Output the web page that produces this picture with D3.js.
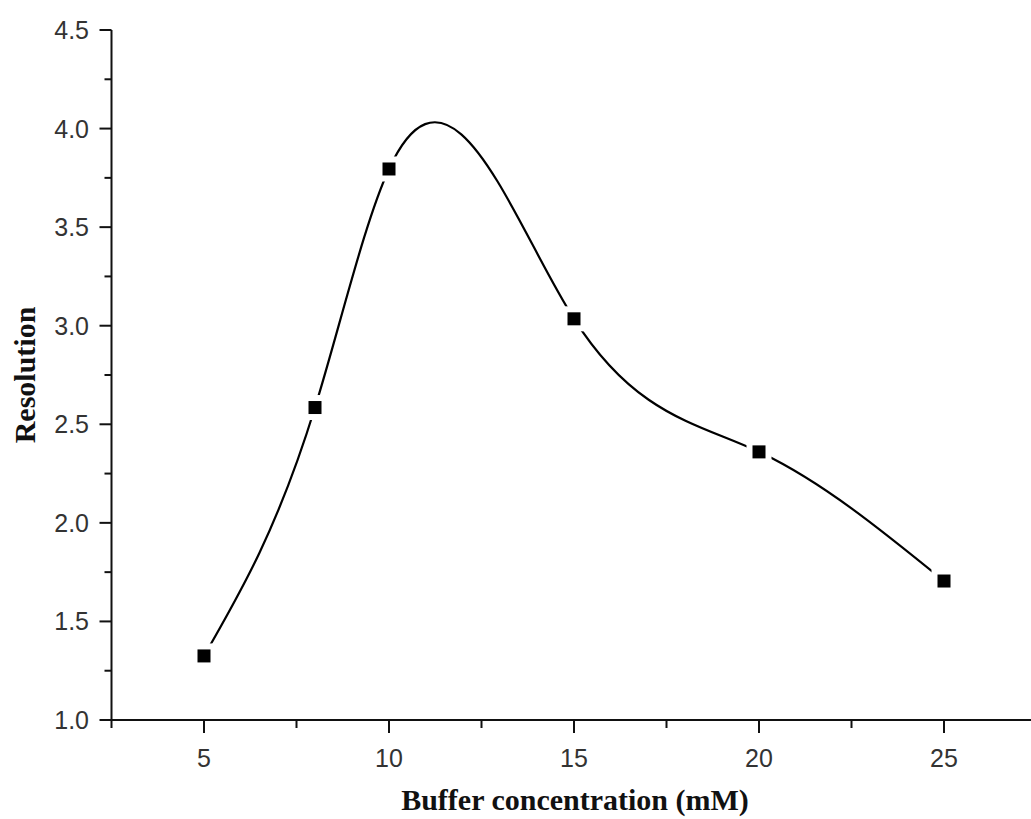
<!DOCTYPE html>
<html>
<head>
<meta charset="utf-8">
<script src="https://cdn.jsdelivr.net/npm/d3@7"></script>
<style>
html,body{margin:0;padding:0;background:#fff;}
svg{display:block;}
</style>
</head>
<body>
<svg id="chart" width="1031" height="819"></svg>
<script>
const concentration = [5, 8, 10, 15, 20, 25];
const resolution = [1.325, 2.585, 3.795, 3.035, 2.36, 1.705];
const xMajorTicks = [5, 10, 15, 20, 25];
const xMinorTicks = [2.5, 7.5, 12.5, 17.5, 22.5];
const yMajorTicks = [1.0, 1.5, 2.0, 2.5, 3.0, 3.5, 4.0, 4.5];
const yMinorTicks = [1.25, 1.75, 2.25, 2.75, 3.25, 3.75, 4.25];
const xTitle = "Buffer concentration (mM)";
const yTitle = "Resolution";

// Custom d3 curve: natural cubic spline in x (like Origin's "Spline" connect)
function CurveSplineX(context) { this._context = context; }
CurveSplineX.prototype = {
  areaStart() { this._line = 0; },
  areaEnd() { this._line = NaN; },
  lineStart() { this._x = []; this._y = []; },
  point(x, y) { this._x.push(+x); this._y.push(+y); },
  lineEnd() {
    const X = this._x, Y = this._y, n = X.length, c = this._context;
    if (!n) return;
    c.moveTo(X[0], Y[0]);
    if (n === 2) { c.lineTo(X[1], Y[1]); return; }
    const h = [], d = [];
    for (let i = 0; i < n - 1; i++) { h.push(X[i + 1] - X[i]); d.push((Y[i + 1] - Y[i]) / h[i]); }
    // tridiagonal system for second derivatives, natural ends
    const M = new Array(n).fill(0);
    const a = [], b = [], cc = [], r = [];
    for (let i = 1; i < n - 1; i++) {
      a.push(h[i - 1]); b.push(2 * (h[i - 1] + h[i])); cc.push(h[i]); r.push(6 * (d[i] - d[i - 1]));
    }
    const m = b.length;
    for (let i = 1; i < m; i++) {
      const w = a[i] / b[i - 1];
      b[i] -= w * cc[i - 1]; r[i] -= w * r[i - 1];
    }
    const sol = new Array(m);
    sol[m - 1] = r[m - 1] / b[m - 1];
    for (let i = m - 2; i >= 0; i--) sol[i] = (r[i] - cc[i] * sol[i + 1]) / b[i];
    for (let i = 0; i < m; i++) M[i + 1] = sol[i];
    for (let i = 0; i < n - 1; i++) {
      const s0 = d[i] - h[i] * (2 * M[i] + M[i + 1]) / 6;
      const s1 = d[i] + h[i] * (M[i] + 2 * M[i + 1]) / 6;
      c.bezierCurveTo(X[i] + h[i] / 3, Y[i] + s0 * h[i] / 3,
                      X[i + 1] - h[i] / 3, Y[i + 1] - s1 * h[i] / 3,
                      X[i + 1], Y[i + 1]);
    }
  }
};
const curveSplineX = ctx => new CurveSplineX(ctx);

const svg = d3.select("#chart");
const x = d3.scaleLinear().domain([2.5, 27.5]).range([111.5, 1036.5]);
const y = d3.scaleLinear().domain([1.0, 4.5]).range([720, 30]);

const axisColor = "#111";
const labelColor = "#333";
const sans = "Liberation Sans, Arial, sans-serif";
const serif = "Liberation Serif, Times New Roman, serif";

// axis lines
svg.append("line").attr("x1", x(2.5)).attr("x2", 1031).attr("y1", y(1)).attr("y2", y(1))
  .attr("stroke", axisColor).attr("stroke-width", 2);
svg.append("line").attr("x1", x(2.5)).attr("x2", x(2.5)).attr("y1", y(1) + 1).attr("y2", y(4.5))
  .attr("stroke", axisColor).attr("stroke-width", 2);

// x ticks
svg.selectAll(".xmaj").data(xMajorTicks).enter().append("line")
  .attr("x1", d => x(d)).attr("x2", d => x(d)).attr("y1", y(1)).attr("y2", y(1) + 13)
  .attr("stroke", axisColor).attr("stroke-width", 2);
svg.selectAll(".xmin").data(xMinorTicks).enter().append("line")
  .attr("x1", d => x(d)).attr("x2", d => x(d)).attr("y1", y(1)).attr("y2", y(1) + 8)
  .attr("stroke", axisColor).attr("stroke-width", 2);
svg.selectAll(".xlab").data(xMajorTicks).enter().append("text")
  .attr("x", d => x(d)).attr("y", 767)
  .attr("text-anchor", "middle")
  .attr("font-family", sans).attr("font-size", 25).attr("fill", labelColor)
  .text(d => d);

// y ticks
svg.selectAll(".ymaj").data(yMajorTicks).enter().append("line")
  .attr("x1", x(2.5) - 12).attr("x2", x(2.5)).attr("y1", d => y(d)).attr("y2", d => y(d))
  .attr("stroke", axisColor).attr("stroke-width", 2);
svg.selectAll(".ymin").data(yMinorTicks).enter().append("line")
  .attr("x1", x(2.5) - 7).attr("x2", x(2.5)).attr("y1", d => y(d)).attr("y2", d => y(d))
  .attr("stroke", axisColor).attr("stroke-width", 2);
svg.selectAll(".ylab").data(yMajorTicks).enter().append("text")
  .attr("x", 89).attr("y", d => y(d) + 9)
  .attr("text-anchor", "end")
  .attr("font-family", sans).attr("font-size", 25).attr("fill", labelColor)
  .text(d => d.toFixed(1));

// titles
svg.append("text").attr("x", 575).attr("y", 810).attr("text-anchor", "middle")
  .attr("font-family", serif)
  .attr("font-weight", "bold").attr("font-size", 30).attr("fill", "#111")
  .text(xTitle);
svg.append("text").attr("transform", "translate(35,375) rotate(-90)").attr("text-anchor", "middle")
  .attr("font-family", serif)
  .attr("font-weight", "bold").attr("font-size", 30).attr("fill", "#111")
  .text(yTitle);

// curve
const pts = concentration.map((c, i) => [c, resolution[i]]);
const line = d3.line().x(d => x(d[0])).y(d => y(d[1])).curve(curveSplineX);
svg.append("path").attr("d", line(pts)).attr("fill", "none")
  .attr("stroke", "#000").attr("stroke-width", 2.2);

// marker gaps and markers
const ms = 13, gap = 6;
svg.selectAll(".gap").data(pts).enter().append("rect")
  .attr("x", d => x(d[0]) - ms / 2 - gap).attr("y", d => y(d[1]) - ms / 2 - gap)
  .attr("width", ms + 2 * gap).attr("height", ms + 2 * gap).attr("fill", "#fff");
svg.selectAll(".mk").data(pts).enter().append("rect")
  .attr("x", d => x(d[0]) - ms / 2).attr("y", d => y(d[1]) - ms / 2)
  .attr("width", ms).attr("height", ms).attr("fill", "#000");
</script>
</body>
</html>
